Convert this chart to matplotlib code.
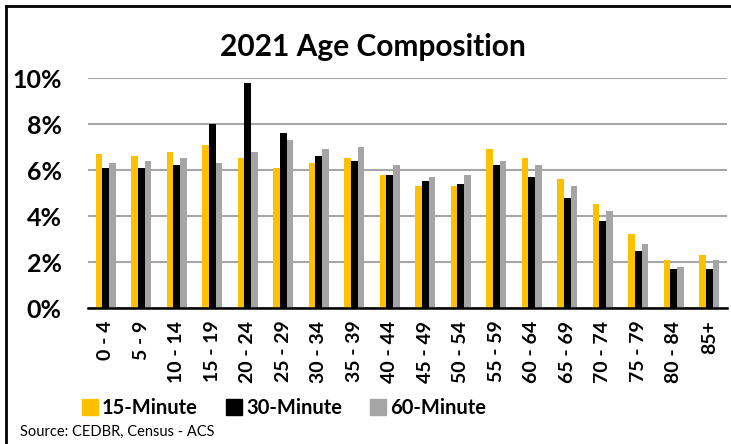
import numpy as np
import matplotlib.pyplot as plt
from matplotlib.lines import Line2D
from matplotlib.ticker import FuncFormatter

plt.rcParams['font.family'] = ['Lato', 'DejaVu Sans']

# age groups and shares (%)
ages = ['0 - 4', '5 - 9', '10 - 14', '15 - 19', '20 - 24', '25 - 29', '30 - 34',
        '35 - 39', '40 - 44', '45 - 49', '50 - 54', '55 - 59', '60 - 64',
        '65 - 69', '70 - 74', '75 - 79', '80 - 84', '85+']
min15 = [6.7, 6.6, 6.8, 7.1, 6.5, 6.1, 6.3, 6.5, 5.8, 5.3, 5.3, 6.9, 6.5, 5.6, 4.5, 3.2, 2.1, 2.3]
min30 = [6.1, 6.1, 6.2, 8.0, 9.8, 7.6, 6.6, 6.4, 5.8, 5.5, 5.4, 6.2, 5.7, 4.8, 3.8, 2.5, 1.7, 1.7]
min60 = [6.3, 6.4, 6.5, 6.3, 6.8, 7.3, 6.9, 7.0, 6.2, 5.7, 5.8, 6.4, 6.2, 5.3, 4.2, 2.8, 1.8, 2.1]

W, H = 731, 444
fig = plt.figure(figsize=(W / 100, H / 100), dpi=100)
ax = fig.add_axes([88 / W, 1 - 308 / H, (727 - 88) / W, (308 - 78) / H])

x = np.arange(len(ages))
bw = 0.19
ax.bar(x - bw, min15, bw, color='#FFC000', label='15-Minute', zorder=3)
ax.bar(x, min30, bw, color='#000000', label='30-Minute', zorder=3)
ax.bar(x + bw, min60, bw, color='#A5A5A5', label='60-Minute', zorder=3)

ax.set_xlim(-0.5, len(ages) - 0.5)
ax.set_ylim(0, 10)
ax.set_yticks(np.arange(0, 11, 2))
ax.yaxis.set_major_formatter(FuncFormatter(lambda v, p: f'{v:.0f}%'))
ax.grid(axis='y', color='#A6A6A6', linewidth=1.5, zorder=0)
ax.set_xticks(x)
ax.set_xticklabels(ages, rotation=90, fontsize=14, fontweight='bold')
for lab in ax.get_yticklabels():
    lab.set_fontsize(18)
    lab.set_fontweight('bold')
ax.tick_params(length=0)
ax.tick_params(axis='y', pad=19)
ax.tick_params(axis='x', pad=9)
for s in ['top', 'right', 'left']:
    ax.spines[s].set_visible(False)
ax.spines['bottom'].set_linewidth(1.8)
ax.spines['bottom'].set_zorder(4)

fig.text(373 / W, 1 - 47 / H, '2021 Age Composition', ha='center', va='center',
         fontsize=21.5, fontweight='bold')

handles = [Line2D([], [], marker='s', linestyle='none', markersize=11, color=c)
           for c in ['#FFC000', '#000000', '#A5A5A5']]
fig.legend(handles, ['15-Minute', '30-Minute', '60-Minute'], loc='center',
           bbox_to_anchor=(284 / W, 1 - 408 / H), ncol=3, frameon=False,
           prop={'size': 14.5, 'weight': 'bold'}, handletextpad=0.2,
           columnspacing=1.4, handlelength=0.8)

fig.text(20 / W, 1 - 432 / H, 'Source: CEDBR, Census - ACS', ha='left', va='center',
         fontsize=10.5)

# frame lines along the left and top edge
fig.add_artist(Line2D([6 / W, 6 / W], [0, 1 - 6 / H], color='black', linewidth=2))
fig.add_artist(Line2D([6 / W, 1], [1 - 6 / H, 1 - 6 / H], color='black', linewidth=2))

fig.savefig('out.png', dpi=100)
